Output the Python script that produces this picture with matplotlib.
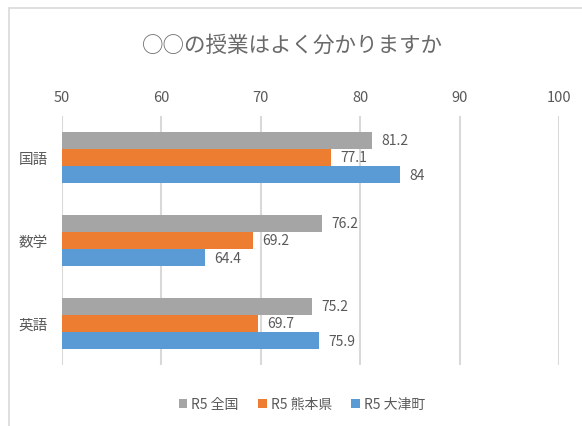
import numpy as np
import matplotlib.pyplot as plt
from matplotlib.patches import Rectangle

plt.rcParams['font.family'] = ['Noto Sans CJK JP', 'DejaVu Sans']

# 教科ごとの回答率
subjects = ["国語", "数学", "英語"]
series_names = ["R5 全国", "R5 熊本県", "R5 大津町"]
zenkoku = [81.2, 76.2, 75.2]
kumamoto = [77.1, 69.2, 69.7]
ozu = [84, 64.4, 75.9]
xticks = [50, 60, 70, 80, 90, 100]

colors = ["#A5A5A5", "#ED7D31", "#5B9BD5"]
text_c = "#595959"

fig = plt.figure(figsize=(5.82, 4.27), dpi=100)
# chart area frame
fig.patches.append(Rectangle((9/582, -0.1), 1.2, (427-9)/427 + 0.1, transform=fig.transFigure,
                             fill=False, edgecolor="#d9d9d9", linewidth=1.2))

ax = fig.add_axes([62/582, 61/427, 497/582, 249/427])

y = np.arange(len(subjects))
h = 0.205
for i, (vals, name) in enumerate(zip([zenkoku, kumamoto, ozu], series_names)):
    pos = y + (i - 1) * h
    ax.barh(pos, vals, height=h, left=0, color=colors[i], label=name, zorder=3)
    for p, v in zip(pos, vals):
        ax.text(v + 0.9, p, f"{v:g}", va="center", ha="left", fontsize=10, color=text_c, zorder=4)

ax.set_xlim(50, 100)
ax.set_ylim(2.5, -0.5)
ax.set_xticks(xticks)
ax.xaxis.tick_top()
ax.tick_params(axis="x", length=0, pad=9, labelsize=10.5, labelcolor=text_c)
ax.set_yticks(y)
ax.set_yticklabels(subjects)
ax.tick_params(axis="y", length=0, pad=10, labelsize=10.5, labelcolor=text_c)
ax.grid(axis="x", color="#d9d9d9", linewidth=1.5, zorder=0)
for s in ax.spines.values():
    s.set_visible(False)

fig.text(292/582, 1 - 46/427, "○○の授業はよく分かりますか", ha="center", va="center",
         fontsize=15.5, color="#6a6a6a")

fig.legend(loc="center", bbox_to_anchor=(302/582, 1 - 405/427), ncol=3, frameon=False,
           handlelength=0.6, handleheight=0.6, handletextpad=0.3, columnspacing=1.4,
           fontsize=10, labelcolor=text_c)

fig.savefig("out.png", dpi=100)
